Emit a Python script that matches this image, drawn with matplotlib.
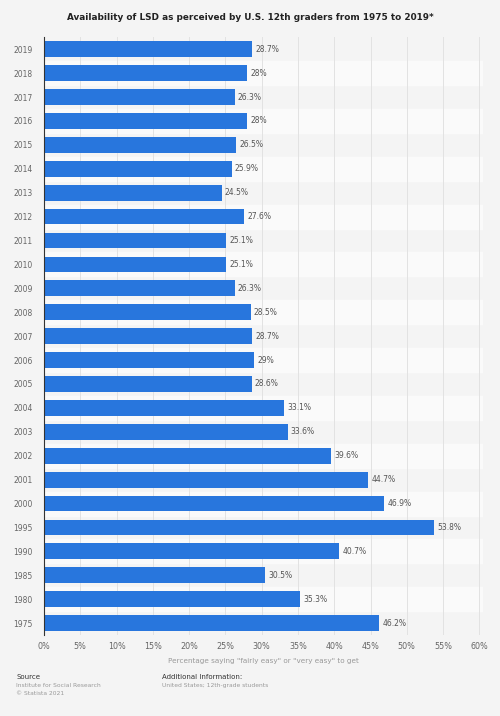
import numpy as np
import matplotlib.pyplot as plt

years = ['2019', '2018', '2017', '2016', '2015', '2014', '2013', '2012', '2011',
         '2010', '2009', '2008', '2007', '2006', '2005', '2004', '2003', '2002',
         '2001', '2000', '1995', '1990', '1985', '1980', '1975']
values = [28.7, 28, 26.3, 28, 26.5, 25.9, 24.5, 27.6, 25.1,
          25.1, 26.3, 28.5, 28.7, 29, 28.6, 33.1, 33.6, 39.6,
          44.7, 46.9, 53.8, 40.7, 30.5, 35.3, 46.2]
labels = ['28.7%', '28%', '26.3%', '28%', '26.5%', '25.9%', '24.5%', '27.6%', '25.1%',
          '25.1%', '26.3%', '28.5%', '28.7%', '29%', '28.6%', '33.1%', '33.6%', '39.6%',
          '44.7%', '46.9%', '53.8%', '40.7%', '30.5%', '35.3%', '46.2%']
xticks = np.arange(0, 61, 5)

bg = '#f4f4f4'
fig = plt.figure(figsize=(5, 7.16), dpi=100, facecolor=bg)
ax = fig.add_axes([0.088, 0.113, 0.878, 0.835])
ax.set_facecolor(bg)

ypos = np.arange(len(years))
# alternating row bands
for i in ypos:
    if i % 2 == 1:
        ax.axhspan(i - 0.5, i + 0.5, color='#fafafa', zorder=0)

for x in xticks[1:]:
    ax.axvline(x, color='#e2e2e2', lw=0.7, zorder=1)

ax.barh(ypos, values, height=0.66, color='#2876dd', zorder=2)
for y, v, t in zip(ypos, values, labels):
    ax.text(v + 0.4, y, t, va='center', ha='left', fontsize=5.5, color='#555555')

ax.set_ylim(len(years) - 0.5, -0.5)
ax.set_xlim(0, 60.5)
ax.set_yticks(ypos)
ax.set_yticklabels(years, fontsize=5.5, color='#666666')
ax.set_xticks(xticks)
ax.set_xticklabels([f'{x}%' for x in xticks], fontsize=5.8, color='#666666')
ax.tick_params(length=0, pad=5)
ax.tick_params(axis='y', pad=8)
for s in ['top', 'right', 'bottom']:
    ax.spines[s].set_visible(False)
ax.spines['left'].set_color('#333333')
ax.spines['left'].set_linewidth(0.8)

ax.set_xlabel('Percentage saying "fairly easy" or "very easy" to get',
              fontsize=5.2, color='#999999', labelpad=5)

fig.text(0.5, 0.975, 'Availability of LSD as perceived by U.S. 12th graders from 1975 to 2019*',
         ha='center', va='center', fontsize=6.4, fontweight='bold', color='#222222')

fig.text(0.033, 0.054, 'Source', fontsize=5, color='#333333', va='center')
fig.text(0.033, 0.043, 'Institute for Social Research', fontsize=4.3, color='#999999', va='center')
fig.text(0.033, 0.032, '© Statista 2021', fontsize=4.3, color='#999999', va='center')
fig.text(0.323, 0.054, 'Additional Information:', fontsize=5, color='#333333', va='center')
fig.text(0.323, 0.043, 'United States; 12th-grade students', fontsize=4.3, color='#999999', va='center')

fig.savefig('out.png', dpi=100, facecolor=bg)
